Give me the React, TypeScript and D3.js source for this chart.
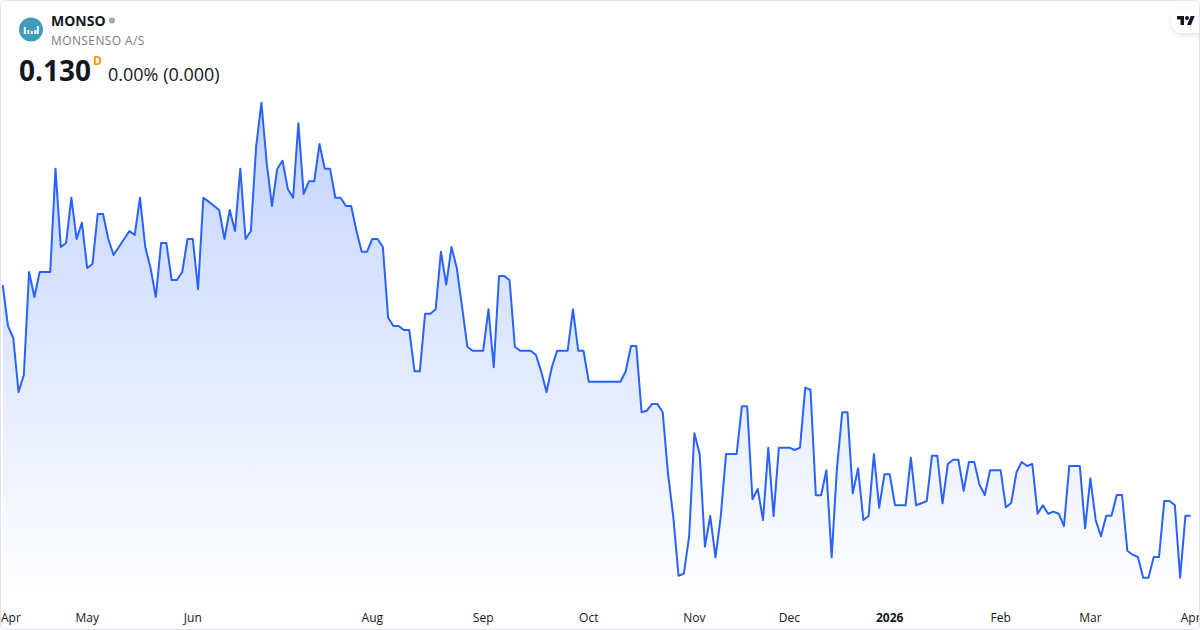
import React from "react";
import * as d3 from "d3";

const closeApr = [.16721,.1606,.15866,.14995,.15269,.16931,.16527,.16931,.16931,.16931,.18597,.17334,.17398,.18129,.17463,.17726];
const closeMay = [.16995,.1706,.17866,.17866,.17463,.17205,.17334,.17463,.17592,.17527,.18129,.17334,.16995,.16527,.17398,.17398,.16802,.16802,.16931,.17463];
const closeJun = [.17463,.16656,.18129,.18065,.18,.17931,.17463,.17931,.17592,.18597,.17463,.17592,.18952,.19661,.18689,.17995,.18597,.18726,.18269,.18129,.19329];
const closeJul = [.18189,.18394,.18394,.18995,.18597,.18597,.18129,.18129,.17995,.17995,.17592,.17258,.17258,.17463];
const closeAug = [.17463,.17334,.16194,.1606,.1606,.15995,.15995,.15329,.15329,.16258,.16258,.16329,.17258,.16726,.17334,.16995,.16371,.15726,.15661,.15661,.15661];
const closeSep = [.16329,.15394,.16866,.16866,.16797,.15726,.15661,.15661,.15661,.15592,.15323,.14995,.15394,.15661,.15661,.15661,.16329,.15661,.15661];
const closeOct = [.15161,.15161,.15161,.15161,.15161,.15161,.15161,.15329,.15737,.15737,.14668,.14694,.14802,.14802,.14668,.13684,.12984,.12032,.12065,.12661];
const closeNov = [.14329,.13995,.125,.12995,.12329,.12995,.13995,.13995,.13995,.14765,.14765,.13265,.13431,.12931,.14097,.12995,.14097,.14097];
const closeDec = [.14097,.1406,.14097,.15065,.15032,.13329,.13329,.13732,.12329,.13765,.14668,.14668,.13361,.13765,.12931,.12995,.13995,.13129,.13668];
const closeJan = [.13668,.13168,.13168,.13168,.13935,.13168,.132,.13237,.13968,.13968,.132,.13834,.13903,.13903,.13403,.13866,.13866,.135,.13334,.13732,.13732];
const closeFeb = [.13732,.13135,.13205,.137,.13866,.13802,.13834,.13032,.13168,.13032,.13065,.13032,.12834,.13802,.13802,.13802,.12797];
const closeMar = [.13603,.12931,.12668,.13,.13,.13334,.13334,.12435,.12371,.12334,.12,.12,.12334,.12334,.13237,.13237,.13168,.12,.13,.13];
const closes = [...closeApr, ...closeMay, ...closeJun, ...closeJul, ...closeAug, ...closeSep, ...closeOct, ...closeNov, ...closeDec, ...closeJan, ...closeFeb, ...closeMar];

const tickLabels = ["Apr", "May", "Jun", "Aug", "Sep", "Oct", "Nov", "Dec", "2026", "Feb", "Mar", "Apr"];
const tickIndexes = [0, 16, 36, 70, 91, 111, 131, 149, 168, 189, 206, 225];

const FONT = "'Open Sans', sans-serif";

export default function App() {
  const x = d3.scaleLinear().domain([0, closes.length - 1]).range([2.7, 1190.7]);
  const y = d3.scaleLinear().domain([0.12, 0.2]).range([577.7, 81.7]);
  const line = d3.line<number>().x((_, i) => x(i)).y((d) => y(d));
  const area = d3.area<number>().x((_, i) => x(i)).y0(600).y1((d) => y(d));
  return (
    <svg width={1200} height={630} viewBox="0 0 1200 630" style={{ position: "fixed", left: 0, top: 0, display: "block" }} fontFamily={FONT}>
      <defs>
        <linearGradient id="fill" gradientUnits="userSpaceOnUse" x1={0} x2={0} y1={y(d3.max(closes)!)} y2={600}>
          <stop offset="0%" stopColor="#2962FF" stopOpacity={0.28} />
          <stop offset="100%" stopColor="#2962FF" stopOpacity={0} />
        </linearGradient>
        <filter id="pill" x="-30%" y="-50%" width="160%" height="200%">
          <feDropShadow dx={0} dy={2} stdDeviation={2.5} floodColor="#000" floodOpacity={0.12} />
        </filter>
        <clipPath id="frame"><rect x={0.5} y={0.5} width={1199} height={629} rx={6} /></clipPath>
      </defs>
      <rect x={0} y={0} width={1200} height={630} fill="#fff" />
      <path d={area(closes)!} fill="url(#fill)" />
      <path d={line(closes)!} fill="none" stroke="#2962FF" strokeWidth={2} strokeLinejoin="round" />
      {tickLabels.map((t, i) => (
        <text
          key={i}
          x={i === 0 ? 1 : x(tickIndexes[i])}
          y={622}
          textAnchor={i === 0 ? "start" : "middle"}
          fontSize={12}
          fontWeight={t === "2026" ? 700 : 400}
          fill="#131722"
        >{t}</text>
      ))}
      <circle cx={31} cy={29.5} r={12} fill="#3f9bba" />
      {[[24, 7], [27.5, 4], [31, 3], [34.5, 4], [37, 8]].map(([bx, h], i) => (
        <rect key={i} x={bx - 0.2} y={34 - h} width={2} height={h} fill="#fff" opacity={0.95} />
      ))}
      <text x={51} y={26} fontSize={14} fontWeight={700} fill="#131722">MONSO</text>
      <circle cx={112} cy={20.5} r={3} fill="#a3a6af" />
      <text x={51} y={45} fontSize={12} fill="#787b86" letterSpacing={0.4}>MONSENSO A/S</text>
      <text x={19} y={81} fontSize={28} fontWeight={700} fill="#131722">0.130</text>
      <text x={93} y={65} fontSize={12} fontWeight={700} fill="#ff9800">D</text>
      <text x={108} y={81} fontSize={18} fill="#131722">0.00% (0.000)</text>
      <g clipPath="url(#frame)">
        <rect x={1171} y={10} width={50} height={23} rx={11.5} fill="#fff" filter="url(#pill)" />
      </g>
      <g transform="translate(1177,14) scale(0.5)" fill="#131722">
        <path d="M14 22H7V11H0V4h14v18zM28 22h-8l7.5-18h8L28 22z" />
        <circle cx={20} cy={8} r={4} />
      </g>
      <rect x={0.5} y={0.5} width={1199} height={629} rx={6} fill="none" stroke="#e0e3eb" strokeWidth={1} />
    </svg>
  );
}
